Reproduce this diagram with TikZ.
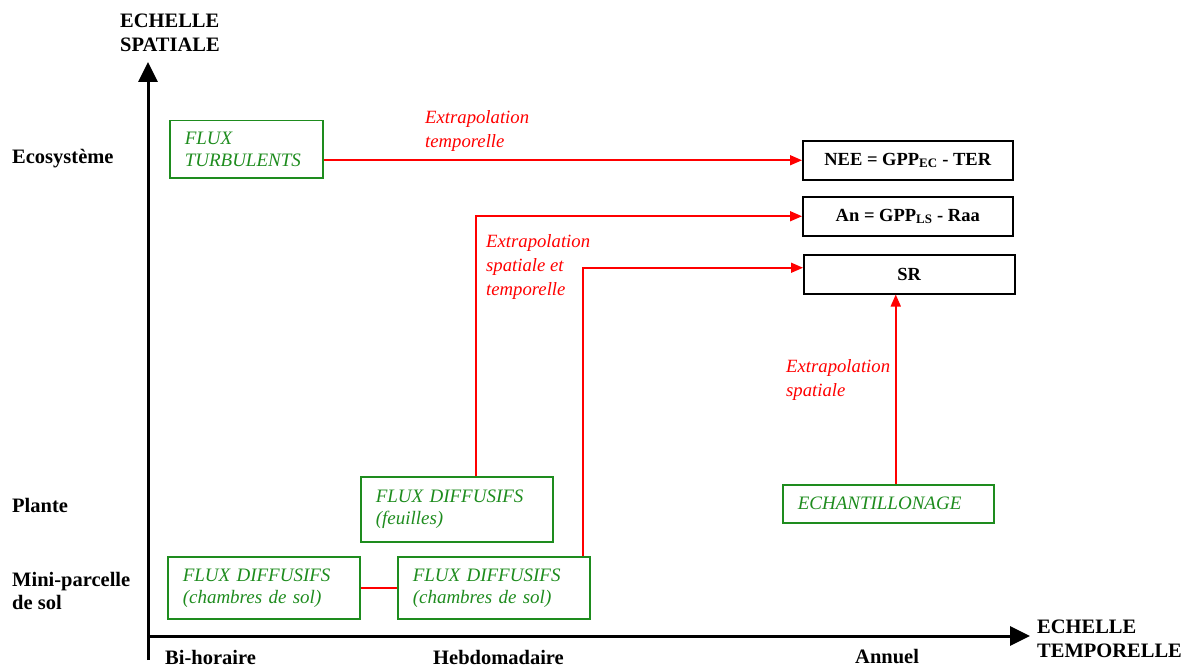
\documentclass[tikz,border=0pt]{standalone}
\usepackage{fontspec}
\setmainfont{Liberation Serif}
\usetikzlibrary{arrows.meta}
\definecolor{boxgreen}{RGB}{30,140,30}
\definecolor{linered}{RGB}{255,0,0}
\begin{document}
\begin{tikzpicture}[x=1pt,y=-1pt,
  axis/.style={line width=3pt,-{Triangle[length=20pt,width=19pt]}},
  lab/.style={inner sep=0pt,anchor=west,align=left,font=\fontsize{20.5}{23.5}\selectfont\bfseries},
  redlab/.style={inner sep=0pt,anchor=west,align=left,text=linered,font=\fontsize{18.7}{24}\selectfont\itshape},
  gbox/.style={draw=boxgreen,line width=1.5pt,anchor=north west,inner xsep=15pt,inner ysep=0pt,
    align=left,text=boxgreen,font=\fontsize{19}{22}\selectfont\itshape},
  kbox/.style={draw=black,line width=1.5pt,anchor=north west,inner sep=0pt,align=center,
    font=\fontsize{18.5}{22}\selectfont\bfseries},
  rline/.style={draw=linered,line width=1.6pt},
  rarrow/.style={rline,-{Triangle[length=12pt,width=10pt]}}]
\useasboundingbox (0,0) rectangle (1193,666);

% axes
\coordinate (yb) at (148,660);
\coordinate (yt) at (148,62);
\coordinate (xl) at (148,636);
\coordinate (xr) at (1030,636);
\draw[axis] (yb) -- (yt);
\draw[axis] (xl) -- (xr);

% axis labels
\node[lab] (ylab) at (120,33) {ECHELLE\\SPATIALE};
\node[lab] (xlab) at (1037,639) {ECHELLE\\TEMPORELLE};
\node[lab] (eco) at (12,159) {Ecosystème};
\node[lab] (plante) at (12,505) {Plante};
\node[lab] (mini) at (12,591) {Mini-parcelle\\de sol};
\node[lab] (bih) at (165,657) {Bi-horaire};
\node[lab] (heb) at (433,657) {Hebdomadaire};
\node[lab] (ann) at (855,657) {Annuel};

% green boxes
\node[gbox,text width=123pt,minimum height=57pt] (turb) at (169,120) {FLUX\\TURBULENTS};
\node[gbox,text width=162pt,minimum height=65pt] (feu) at (360,476) {FLUX DIFFUSIFS\\(feuilles)};
\node[gbox,text width=162pt,minimum height=62pt] (ch1) at (167,556) {FLUX DIFFUSIFS\\(chambres de sol)};
\node[gbox,text width=162pt,minimum height=62pt] (ch2) at (397,556) {FLUX DIFFUSIFS\\(chambres de sol)};
\node[gbox,text width=181pt,minimum height=38pt] (ech) at (782,484) {ECHANTILLONAGE};

% black boxes
\node[kbox,minimum width=210pt,minimum height=39pt] (nee) at (802,140) {NEE = GPP\textsubscript{EC} - TER};
\node[kbox,minimum width=210pt,minimum height=39pt] (an) at (802,196) {An = GPP\textsubscript{LS} - Raa};
\node[kbox,minimum width=211pt,minimum height=39pt] (sr) at (803,254) {SR};

% red connectors
\draw[rarrow] (turb.east |- nee.west) -- (nee.west);
\draw[rarrow] ([xshift=19pt]feu.north) |- (an.west);
\draw[rarrow] ([xshift=89pt]ch2.north) |- ([yshift=6.5pt]sr.west);
\draw[rarrow] ([xshift=7.5pt]ech.north) -- ([xshift=7.5pt]ech.north |- sr.south);
\draw[rline] (ch1.east) -- (ch2.west);

% red labels
\node[redlab] (l1) at (425,131) {Extrapolation\\temporelle};
\node[redlab] (l2) at (486,267) {Extrapolation\\spatiale et\\temporelle};
\node[redlab] (l3) at (786,380) {Extrapolation\\spatiale};
\end{tikzpicture}
\end{document}
